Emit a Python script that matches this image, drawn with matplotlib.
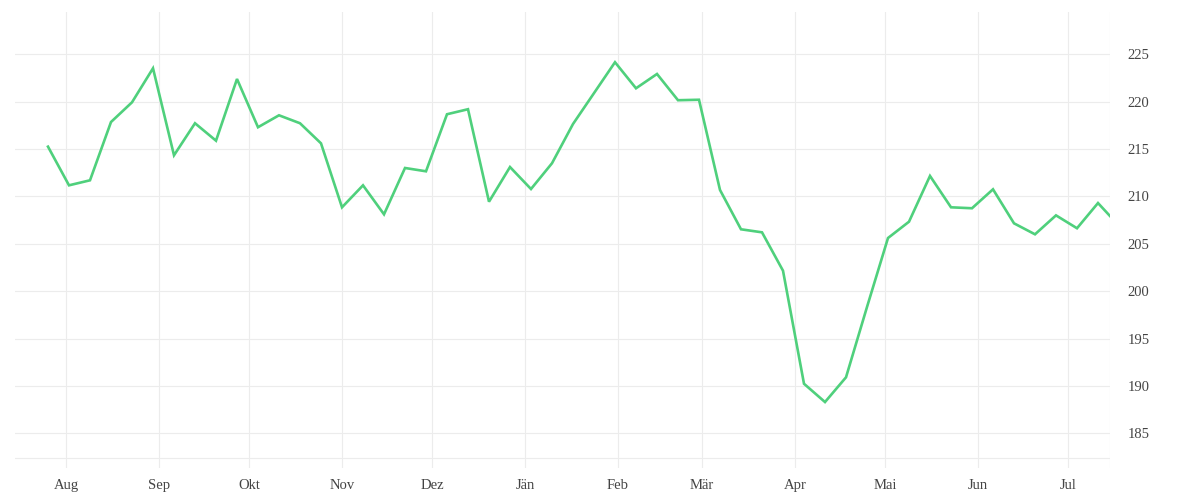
import pandas as pd
import numpy as np
import matplotlib
matplotlib.use("Agg")
import matplotlib.pyplot as plt

# weekly values, last point is a partial week
start = "2022-07-26"
values = [215.25, 211.17, 211.7, 217.85, 219.93, 223.52, 214.34, 217.72, 215.88, 222.39,
          217.3, 218.56, 217.72, 215.6, 208.85, 211.17, 208.11, 213.0, 212.65, 218.67,
          219.2, 209.44, 213.1, 210.78, 213.5, 217.64, 220.9, 224.16, 221.41, 222.92,
          220.15, 220.2, 210.68, 206.53, 206.21, 202.16, 190.23, 188.3, 190.91, 198.33,
          205.61, 207.33, 212.16, 208.85, 208.75, 210.75, 207.16, 206.0, 208.0, 206.64,
          209.3]
last_date = "2023-07-15"
last_value = 207.93

month_labels = ["Aug", "Sep", "Okt", "Nov", "Dez", "Jän", "Feb", "Mär", "Apr", "Mai", "Jun", "Jul"]
y_ticks = [185, 190, 195, 200, 205, 210, 215, 220, 225]

dates = list(pd.date_range(start, periods=len(values), freq="7D"))
dates.append(pd.Timestamp(last_date))
vals = values + [last_value]
month_ticks = pd.date_range("2022-08-01", periods=len(month_labels), freq="MS")

plt.rcParams['font.family'] = ['Liberation Serif', 'DejaVu Serif']

fig = plt.figure(figsize=(12, 5), dpi=100)
ax = fig.add_axes([15 / 1200, 32 / 500, 1095 / 1200, 456 / 500])

grid_c = "#ececec"
ax.plot(dates, vals, color="#4fd07c", linewidth=1.9, solid_joinstyle="miter", zorder=3)

ax.set_xlim(pd.Timestamp("2022-07-15"), pd.Timestamp(last_date))
ax.set_ylim(181.34, 229.46)

ax.set_xticks(month_ticks)
ax.set_xticklabels(month_labels)
ax.set_yticks(y_ticks)
ax.yaxis.tick_right()

ax.grid(True, color=grid_c, linewidth=0.8, zorder=0)
ax.axhline(182.39, color=grid_c, linewidth=0.8, zorder=0)
ax.axvline(pd.Timestamp(last_date), color=grid_c, linewidth=0.8, zorder=0)

for s in ax.spines.values():
    s.set_visible(False)

ax.tick_params(axis="both", length=0, labelsize=10.5, labelcolor="#444444")
ax.tick_params(axis="x", pad=8)
ax.tick_params(axis="y", pad=12.5)

fig.savefig("out.png", dpi=100, facecolor="white")
